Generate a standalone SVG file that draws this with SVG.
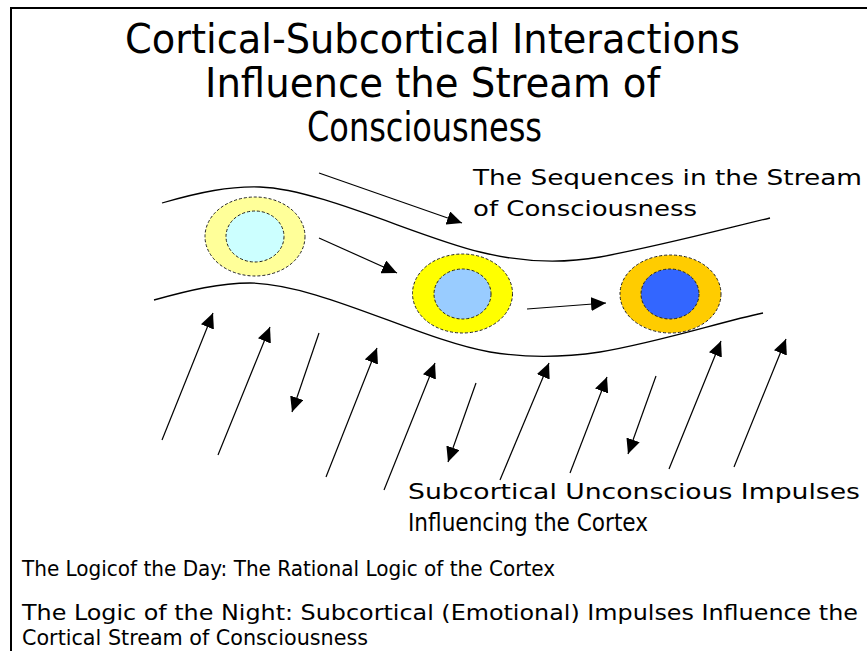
<svg xmlns="http://www.w3.org/2000/svg" width="867" height="651" viewBox="0 0 867 651">
<style>
.t{font-family:"DejaVu Sans","Liberation Sans",sans-serif;fill:#000}
.c{font-family:"DejaVu Sans Condensed","DejaVu Sans","Liberation Sans",sans-serif;fill:#000}
.curve{fill:none;stroke:#000;stroke-width:1.3}
.arr{fill:none;stroke:#000;stroke-width:1.2;marker-end:url(#ah)}
.ring{stroke:#222;stroke-width:1;stroke-dasharray:3,2}
</style>
<defs>
<marker id="ah" markerUnits="userSpaceOnUse" markerWidth="16" markerHeight="14" refX="15" refY="7" orient="auto">
<path d="M0,0 L15,7 L0,14 Z" fill="#000"/>
</marker>
</defs>
<rect width="867" height="651" fill="#fff"/>
<path d="M11,651 L11,8 L867,8" fill="none" stroke="#000" stroke-width="2"/>
<g id="title">
<text class="c" x="125" y="53" font-size="40" textLength="615" lengthAdjust="spacingAndGlyphs">Cortical-Subcortical Interactions</text>
<text class="c" x="205" y="97" font-size="40" textLength="455" lengthAdjust="spacingAndGlyphs">Influence the Stream of</text>
<text class="c" x="307" y="141" font-size="40" textLength="235" lengthAdjust="spacingAndGlyphs">Consciousness</text>
</g>
<g id="stream">
<path class="curve" d="M162,203 C200,192 230,186 260,187 C320,189 420,238 480,252 C520,262 560,264 600,257 C660,246 720,230 770,218"/>
<path class="curve" d="M154,300 C190,290 220,283 250,283 C320,284 420,340 490,352 C520,357 560,358 600,352 C660,342 720,322 763,313"/>
</g>
<g id="node1">
<ellipse class="ring" cx="255" cy="236.5" rx="50" ry="39.5" fill="#FFFF99"/>
<ellipse class="ring" cx="255" cy="236.5" rx="29" ry="25.5" fill="#CCFFFF"/>
</g>
<g id="node2">
<ellipse class="ring" cx="462.5" cy="293.5" rx="50" ry="39.5" fill="#FFFF00"/>
<ellipse class="ring" cx="462.5" cy="294" rx="28.5" ry="25" fill="#99CCFF"/>
</g>
<g id="node3">
<ellipse class="ring" cx="670.5" cy="294" rx="50.5" ry="39" fill="#FFCC00"/>
<ellipse class="ring" cx="670" cy="294" rx="29" ry="25" fill="#3366FF"/>
</g>
<g id="connectors">
<line class="arr" x1="319" y1="173" x2="462" y2="223"/>
<line class="arr" x1="319" y1="238" x2="397" y2="273"/>
<line class="arr" x1="527" y1="309" x2="606" y2="303"/>
<line class="arr" x1="162" y1="440" x2="213" y2="313"/>
<line class="arr" x1="218" y1="455" x2="270" y2="327"/>
<line class="arr" x1="319" y1="333" x2="292" y2="412"/>
<line class="arr" x1="326" y1="477" x2="377" y2="348"/>
<line class="arr" x1="384" y1="490" x2="435" y2="363"/>
<line class="arr" x1="476" y1="383" x2="448" y2="462"/>
<line class="arr" x1="500" y1="480" x2="549" y2="363"/>
<line class="arr" x1="570" y1="473" x2="607" y2="377"/>
<line class="arr" x1="656" y1="376" x2="628" y2="454"/>
<line class="arr" x1="669" y1="469" x2="721" y2="341"/>
<line class="arr" x1="734" y1="467" x2="786" y2="339"/>
</g>
<g id="labels">
<text class="t" x="473" y="185" font-size="22" textLength="389" lengthAdjust="spacingAndGlyphs">The Sequences in the Stream</text>
<text class="t" x="473" y="216" font-size="22" textLength="224" lengthAdjust="spacingAndGlyphs">of Consciousness</text>
<text class="t" x="408" y="499" font-size="22" textLength="452" lengthAdjust="spacingAndGlyphs">Subcortical Unconscious Impulses</text>
<text class="c" x="408" y="531" font-size="24" textLength="240" lengthAdjust="spacingAndGlyphs">Influencing the Cortex</text>
<text class="c" x="22" y="576" font-size="21" textLength="533" lengthAdjust="spacingAndGlyphs">The Logicof the Day: The Rational Logic of the Cortex</text>
<text class="c" x="22" y="620" font-size="21" textLength="836" lengthAdjust="spacingAndGlyphs">The Logic of the Night: Subcortical (Emotional) Impulses Influence the</text>
<text class="c" x="22" y="645" font-size="21" textLength="346" lengthAdjust="spacingAndGlyphs">Cortical Stream of Consciousness</text>
</g>
</svg>
